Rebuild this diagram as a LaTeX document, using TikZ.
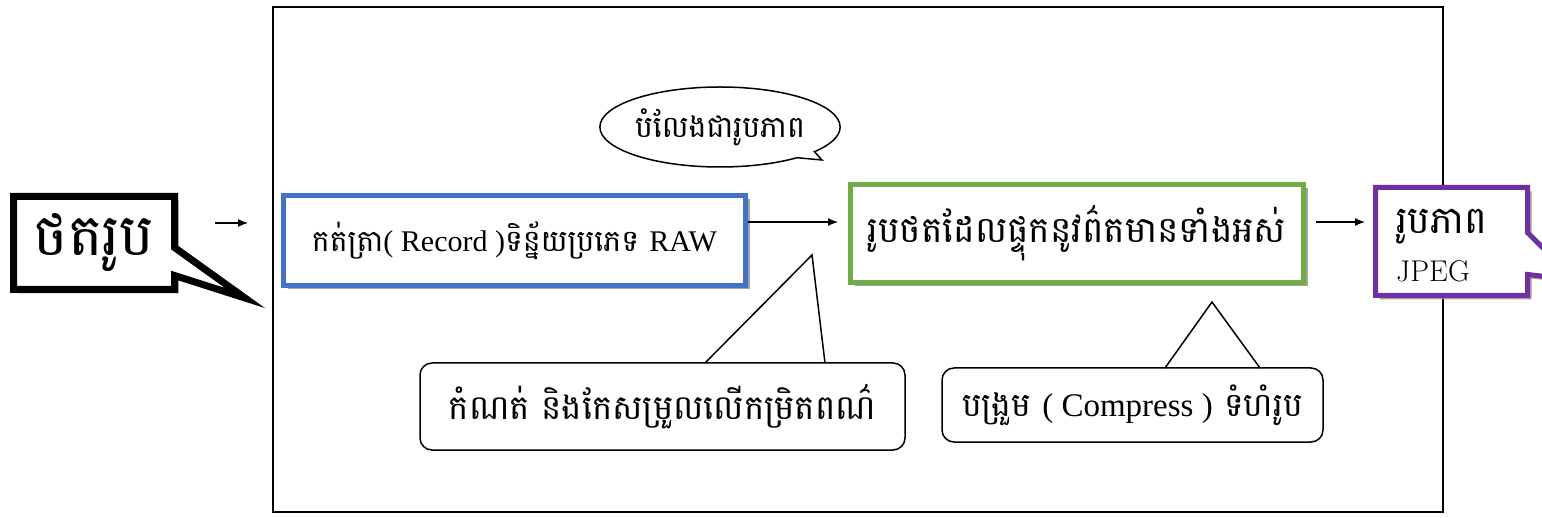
\documentclass[tikz,border=0pt]{standalone}
\usepackage{fontspec}
\newfontfamily\km[Script=Khmer]{Battambang}
\newfontfamily\lat{Liberation Serif}
\usetikzlibrary{arrows.meta,shapes.callouts,shadows,shapes.geometric}
\definecolor{bluebox}{HTML}{4472C4}
\definecolor{greenbox}{HTML}{70AD47}
\definecolor{purplebox}{HTML}{7030A0}
\begin{document}
\begin{tikzpicture}[x=1pt,y=-1pt,
  shd/.style={drop shadow={shadow xshift=4pt,shadow yshift=-4pt,fill=black!45,opacity=0.8}},
  flowbox/.style={draw,line width=5pt,fill=white,inner sep=0pt,shd},
  callbox/.style={draw,line width=1.5pt,rounded corners=12pt,fill=white,inner sep=0pt},
  tail/.style={line width=1.5pt,line join=miter},
  arr/.style={line width=1.3pt,-{Latex[length=10pt,width=8pt]}},
  ]
\clip (0,0) rectangle (1542,518);
\fill[white] (0,0) rectangle (1542,518);
\node[draw,line width=2.5pt,minimum width=1170pt,minimum height=505pt,inner sep=0pt] (frame) at (858,259.5) {};

% left callout
\node[rectangle callout,draw,line width=7pt,fill=white,minimum width=161pt,minimum height=93pt,
  callout absolute pointer={(245,298)},callout pointer width=28pt,shd,inner sep=0pt,
  font=\km\fontsize{58}{64}\selectfont] (shoot) at (94,243) {ថតរូប};

% flow boxes
\node[flowbox,draw=bluebox,minimum width=462pt,minimum height=90pt,
  font=\km\fontsize{30}{34}\selectfont] (rec) at (514.5,240.5)
  {កត់ត្រា{\lat( Record )}ទិន្ន័យប្រភេទ {\lat RAW}};
\node[flowbox,draw=greenbox,minimum width=453pt,minimum height=98pt,
  font=\km\fontsize{36}{40}\selectfont] (img) at (1077,233.5)
  {រូបថតដែលផ្ទុកនូវព៌តមានទាំងអស់};
\node[rectangle callout,draw=purplebox,line width=5pt,fill=white,minimum width=152pt,minimum height=108pt,
  callout absolute pointer={(1575,280)},callout pointer width=42pt,shd,inner sep=0pt] (jpeg) at (1451.5,241.5) {};
\node[anchor=west,inner sep=0pt,font=\km\fontsize{38}{40}\selectfont] (jpegkm) at (1396,227) {រូបភាព};
\node[anchor=west,inner sep=0pt,font=\fontsize{30}{32}\selectfont] (jpeglat) at (1396,271) {JPEG};

% arrows
\coordinate (start) at (215,223);
\coordinate (recin) at (248,223);
\draw[arr] (start) -- (recin);
\draw[arr] (rec.east |- 0,222) -- ([xshift=-10pt]img.west |- 0,222);
\draw[arr] ([xshift=10pt]img.east |- 0,222) -- ([xshift=-8pt]jpeg.west |- 0,222);

% ellipse callout
\node[ellipse callout,draw,line width=1.5pt,fill=white,minimum width=235pt,minimum height=80pt,
  callout absolute pointer={(822,160)},callout pointer arc=12,inner sep=0pt,
  font=\km\fontsize{30}{34}\selectfont] (conv) at (720,127) {បំលែងជារូបភាព};

% rounded callouts
\node[callbox,minimum width=485pt,minimum height=87pt,font=\km\fontsize{34}{38}\selectfont] (adj) at (662.5,406.5)
  {កំណត់ និងកែសម្រួលលើកម្រិតពណ៌};
\coordinate (adjtip) at (812,255);
\coordinate (adjl) at (705,363);
\coordinate (adjr) at (825,363);
\fill[white] ([yshift=2pt]adjl) -- (adjtip) -- ([yshift=2pt]adjr) -- cycle;
\draw[tail] (adjl) -- (adjtip) -- (adjr);

\node[callbox,minimum width=381pt,minimum height=74pt,font=\km\fontsize{33}{37}\selectfont] (comp) at (1132.5,405)
  {បង្រួម {\lat( Compress )} ទំហំរូប};
\coordinate (comptip) at (1212,302);
\coordinate (compl) at (1165,368);
\coordinate (compr) at (1260,368);
\fill[white] ([yshift=2pt]compl) -- (comptip) -- ([yshift=2pt]compr) -- cycle;
\draw[tail] (compl) -- (comptip) -- (compr);
\end{tikzpicture}
\end{document}
